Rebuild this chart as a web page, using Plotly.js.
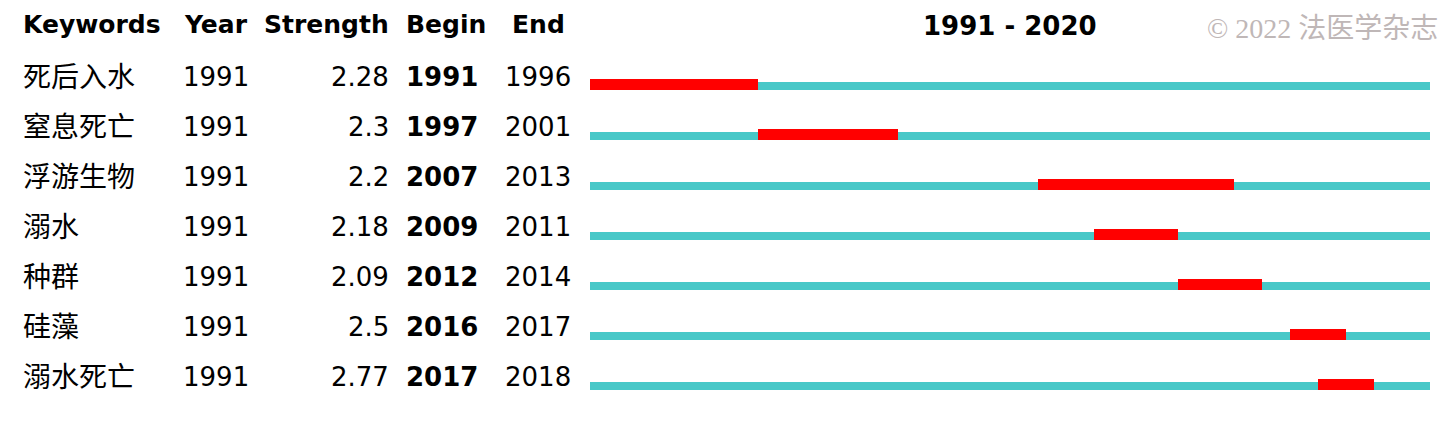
<!DOCTYPE html>
<html><head><meta charset="utf-8">
<script src="https://cdn.plot.ly/plotly-3.0.1.min.js"></script>
<style>html,body{margin:0;padding:0;background:#fff;}</style>
</head><body><div id="chart" style="width:1456px;height:422px;"></div>
<script>
const keywords = ["死后入水","窒息死亡","浮游生物","溺水","种群","硅藻","溺水死亡"];
const years = [1991,1991,1991,1991,1991,1991,1991];
const strengths = ["2.28","2.3","2.2","2.18","2.09","2.5","2.77"];
const begins = [1991,1997,2007,2009,2012,2016,2017];
const ends = [1996,2001,2013,2011,2014,2017,2018];
const headers = ["Keywords","Year","Strength","Begin","End"];
const spanStart = 1991, spanEnd = 2020;
const titleText = "1991 - 2020";
const watermark = "© 2022 法医学杂志";

const W = 1456;
const px = p => p / W;
const rows = keywords.map((k,i)=>i);
const fontMain = "Lucida Grande, DejaVu Sans, Noto Sans CJK SC, sans-serif";

const traces = [
  {type:'bar', orientation:'h', y: rows, x: rows.map(()=>spanEnd+1-spanStart), base: rows.map(()=>spanStart),
   offset:-0.06, width:0.16, marker:{color:'#48c8c8', line:{width:0}}, hoverinfo:'skip', showlegend:false},
  {type:'bar', orientation:'h', y: rows, x: begins.map((b,i)=>ends[i]+1-b), base: begins,
   offset:-0.12, width:0.22, marker:{color:'#ff0000', line:{width:0}}, hoverinfo:'skip', showlegend:false}
];

const ann = [];
const colX = [21, 216, 391, 404, 538];
const colAnchor = ['left','center','right','left','center'];
const hy = -1.21;
headers.forEach((h,j)=>{
  ann.push({xref:'paper', yref:'y', x:px(colX[j]), y:hy, text:'<b>'+h+'</b>', showarrow:false,
    xanchor:colAnchor[j], yanchor:'middle', font:{family:fontMain, size:25, color:'#000'}});
});
rows.forEach(i=>{
  const vals = [keywords[i], String(years[i]), strengths[i], '<b>'+begins[i]+'</b>', String(ends[i])];
  vals.forEach((v,j)=>{
    ann.push({xref:'paper', yref:'y', x:px(colX[j]), y: j===0 ? i-0.2 : i-0.16, text:v, showarrow:false,
      xanchor:colAnchor[j], yanchor:'middle',
      font:{family: j===0 ? "Noto Sans CJK SC, sans-serif" : fontMain, size: j===0 ? 28 : 26, color:'#000'}});
  });
});
ann.push({xref:'paper', yref:'y', x:px(1010), y:-1.18, text:'<b>'+titleText+'</b>', showarrow:false,
  xanchor:'center', yanchor:'middle', font:{family:fontMain, size:26, color:'#000'}});
ann.push({xref:'paper', yref:'y', x:px(1440), y:-1.14, text:watermark, showarrow:false,
  xanchor:'right', yanchor:'middle', font:{family:"Liberation Serif, Noto Sans CJK SC, serif", size:28, color:'#bfb7b7'}});

const layout = {
  width:1456, height:422, margin:{l:0,r:0,t:0,b:0}, paper_bgcolor:'#fff', plot_bgcolor:'#fff',
  barmode:'overlay', showlegend:false,
  xaxis:{domain:[px(590), px(1430)], range:[spanStart, spanEnd+1], visible:false, fixedrange:true},
  yaxis:{domain:[0,1], range:[(422-85)/50, -85/50], visible:false, fixedrange:true},
  annotations: ann
};
Plotly.newPlot('chart', traces, layout, {staticPlot:true});
</script></body></html>
